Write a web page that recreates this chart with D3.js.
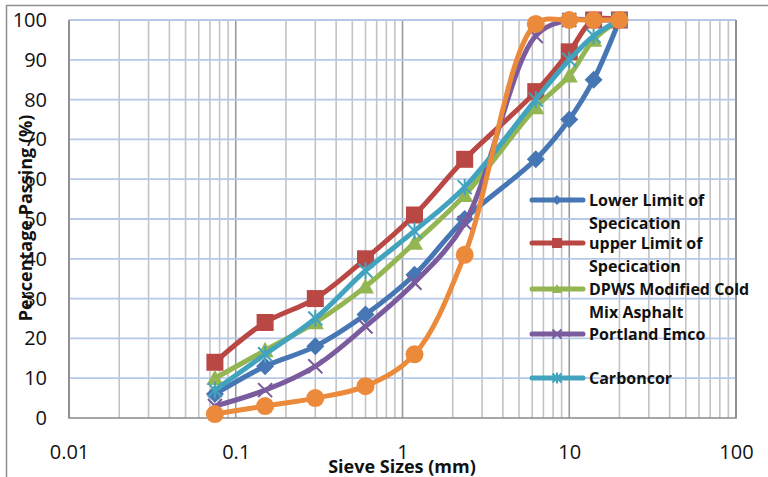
<!DOCTYPE html>
<html>
<head>
<meta charset="utf-8">
<script src="https://cdn.jsdelivr.net/npm/d3@7"></script>
<style>
  html, body { margin: 0; padding: 0; background: #fff; }
  svg { display: block; }
</style>
</head>
<body>
<svg id="chart" width="768" height="477"></svg>
<script>
// ---- Data ----
const sieveSizes = [0.075, 0.15, 0.3, 0.6, 1.18, 2.36, 6.3, 10, 14, 20];
const lowerLimit = [6, 13, 18, 26, 36, 50, 65, 75, 85, 100];
const upperLimit = [14, 24, 30, 40, 51, 65, 82, 92, 100, 100];
const dpwsModified = [10, 17, 24, 33, 44, 56, 78, 86, 95, 100];
const portlandEmco = [3, 7, 13, 23, 34, 49, 96, 100, 100, 100];
const carboncor = [7, 16, 25, 37, 47, 58, 80, 90, 96, 100];
const orangeSeries = [1, 3, 5, 8, 16, 41, 99, 100, 100, 100];
const xTickValues = [0.01, 0.1, 1, 10, 100];
const xTickLabels = ["0.01", "0.1", "1", "10", "100"];
const yTickValues = [0, 10, 20, 30, 40, 50, 60, 70, 80, 90, 100];

const seriesDefs = [
  { name: ["Lower Limit of", "Specication"], values: lowerLimit, color: "#4677B4", marker: "diamond", legend: true },
  { name: ["upper Limit of", "Specication"], values: upperLimit, color: "#B94743", marker: "square", legend: true },
  { name: ["DPWS Modified Cold", "Mix Asphalt"], values: dpwsModified, color: "#93B552", marker: "triangle", legend: true },
  { name: ["Portland Emco"], values: portlandEmco, color: "#7A5C9E", marker: "x", legend: true },
  { name: ["Carboncor"], values: carboncor, color: "#42A3BE", marker: "star", legend: true },
  { name: [""], values: orangeSeries, color: "#EC8A3C", marker: "circle", legend: false }
];

// ---- Layout ----
const svg = d3.select("#chart");
const plot = { left: 69, right: 736, top: 20, bottom: 418 };

const x = d3.scaleLog().domain([0.01, 100]).range([plot.left, plot.right]);
const y = d3.scaleLinear().domain([0, 100]).range([plot.bottom, plot.top]);

// outer frame
svg.append("rect")
  .attr("x", 6.5).attr("y", 5.5).attr("width", 800).attr("height", 520)
  .attr("fill", "#fff").attr("stroke", "#8E8E8E").attr("stroke-width", 1.5);

// vertical gridlines (log minor)
const vTicks = [];
for (let e = -2; e <= 1; e++) {
  for (let k = 1; k <= 9; k++) vTicks.push({ v: k * Math.pow(10, e), major: k === 1 });
}
vTicks.push({ v: 100, major: true });

svg.append("g").selectAll("line").data(vTicks).join("line")
  .attr("x1", d => x(d.v)).attr("x2", d => x(d.v))
  .attr("y1", plot.top).attr("y2", plot.bottom)
  .attr("stroke", d => d.major ? "#9A9A9A" : "#C3C3C3")
  .attr("stroke-width", 1.6);

// horizontal gridlines
svg.append("g").selectAll("line").data(yTickValues.filter(v => v > 0)).join("line")
  .attr("x1", plot.left).attr("x2", plot.right)
  .attr("y1", d => y(d)).attr("y2", d => y(d))
  .attr("stroke", "#B7C8E8").attr("stroke-width", 1.8);

// axis borders (left, bottom, right)
svg.append("path")
  .attr("d", `M${plot.left},${plot.top}V${plot.bottom}H${plot.right}V${plot.top}`)
  .attr("fill", "none").attr("stroke", "#8A8A8A").attr("stroke-width", 1.6);

// axes labels via d3 axes (no lines)
const yAxis = svg.append("g")
  .attr("transform", `translate(${plot.left},0)`)
  .call(d3.axisLeft(y).tickValues(yTickValues).tickSize(0).tickPadding(22));
yAxis.select(".domain").remove();
yAxis.selectAll("text")
  .attr("font-family", "'Open Sans', sans-serif").attr("font-size", 20).attr("fill", "#111");

const xAxis = svg.append("g")
  .attr("transform", `translate(0,${plot.bottom})`)
  .call(d3.axisBottom(x).tickValues(xTickValues).tickFormat((d, i) => xTickLabels[i]).tickSize(0).tickPadding(27));
xAxis.select(".domain").remove();
xAxis.selectAll("text")
  .attr("font-family", "'Open Sans', sans-serif").attr("font-size", 20).attr("fill", "#111");

// axis titles
svg.append("text")
  .attr("x", 402).attr("y", 473)
  .attr("text-anchor", "middle")
  .attr("font-family", "'Open Sans', sans-serif").attr("font-weight", "bold").attr("font-size", 18)
  .attr("fill", "#111")
  .text("Sieve Sizes (mm)");

svg.append("text")
  .attr("transform", "translate(32,218) rotate(-90)")
  .attr("text-anchor", "middle")
  .attr("font-family", "'Open Sans', sans-serif").attr("font-weight", "bold").attr("font-size", 18)
  .attr("fill", "#111")
  .text("Percentage Passing (%)");

// marker drawing
function drawMarker(g, type, cx, cy, s, color) {
  if (type === "diamond") {
    g.append("path").attr("d", `M${cx},${cy - s}L${cx + s},${cy}L${cx},${cy + s}L${cx - s},${cy}Z`)
      .attr("fill", color);
  } else if (type === "square") {
    g.append("rect").attr("x", cx - s).attr("y", cy - s).attr("width", 2 * s).attr("height", 2 * s)
      .attr("fill", color);
  } else if (type === "triangle") {
    g.append("path").attr("d", `M${cx},${cy - s}L${cx + s},${cy + s * 0.8}L${cx - s},${cy + s * 0.8}Z`)
      .attr("fill", color);
  } else if (type === "circle") {
    g.append("circle").attr("cx", cx).attr("cy", cy).attr("r", s).attr("fill", color);
  } else if (type === "x") {
    g.append("path").attr("d", `M${cx - s},${cy - s}L${cx + s},${cy + s}M${cx - s},${cy + s}L${cx + s},${cy - s}`)
      .attr("stroke", color).attr("stroke-width", 2).attr("fill", "none");
  } else if (type === "star") {
    g.append("path").attr("d", `M${cx - s},${cy - s}L${cx + s},${cy + s}M${cx - s},${cy + s}L${cx + s},${cy - s}M${cx},${cy - s * 1.2}V${cy + s * 1.2}`)
      .attr("stroke", color).attr("stroke-width", 2).attr("fill", "none");
  }
}

const markerSize = { diamond: 9, square: 8.5, triangle: 8.5, circle: 9, x: 7, star: 7 };

const line = d3.line()
  .x(d => x(d[0])).y(d => y(d[1]))
  .curve(d3.curveCatmullRom.alpha(0.5));

seriesDefs.forEach(s => {
  const pts = sieveSizes.map((v, i) => [v, s.values[i]]);
  const g = svg.append("g");
  g.append("path").datum(pts)
    .attr("d", line)
    .attr("fill", "none").attr("stroke", s.color).attr("stroke-width", 5)
    .attr("stroke-linejoin", "round").attr("stroke-linecap", "round");
  pts.forEach(p => drawMarker(g, s.marker, x(p[0]), y(p[1]), markerSize[s.marker], s.color));
});

// legend
const legendItems = seriesDefs.filter(s => s.legend);
const legendY = [200, 243, 289, 334, 378];
const lg = svg.append("g");
legendItems.forEach((s, i) => {
  const ly = legendY[i];
  lg.append("line").attr("x1", 532).attr("x2", 583).attr("y1", ly).attr("y2", ly)
    .attr("stroke", s.color).attr("stroke-width", 5).attr("stroke-linecap", "round");
  drawMarker(lg, s.marker, 557, ly, s.marker === "x" || s.marker === "star" ? 4.5 : 5, s.color);
  s.name.forEach((t, j) => {
    lg.append("text")
      .attr("x", 589).attr("y", ly + 6 + j * 23)
      .attr("font-family", "'Open Sans', sans-serif").attr("font-weight", "bold").attr("font-size", 16)
      .attr("fill", "#111")
      .text(t);
  });
});
</script>
</body>
</html>
